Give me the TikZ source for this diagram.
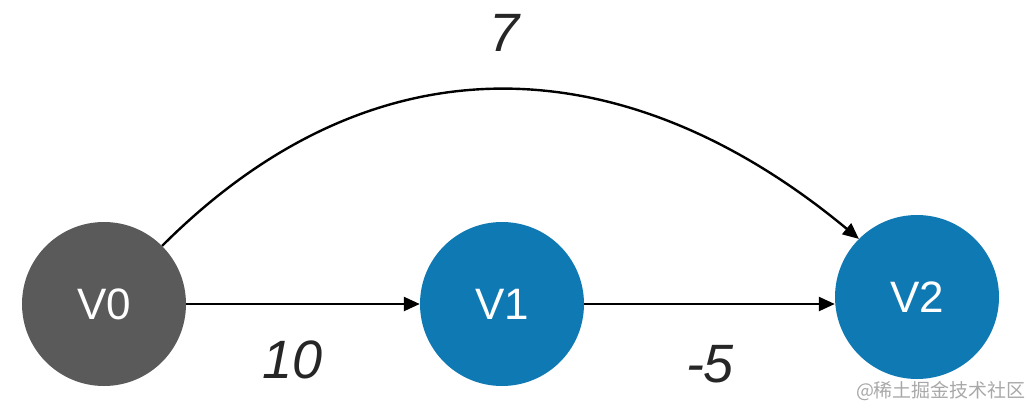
\documentclass[tikz,border=0pt]{standalone}
\usepackage{fontspec}
\setmainfont{Liberation Sans}
\newfontfamily\cjk{Noto Sans CJK SC}
\usetikzlibrary{arrows.meta}
\definecolor{nodegray}{HTML}{5A5A5A}
\definecolor{nodeblue}{HTML}{0F79B4}
\definecolor{wmgray}{HTML}{A8A8A8}
\tikzset{
  vertex/.style={circle, minimum size=164pt, inner sep=0pt, text=white, font=\fontsize{44}{44}\selectfont},
  edge/.style={line width=2.4pt, -{Triangle[length=16pt,width=14pt]}},
  wlabel/.style={font=\fontsize{54}{54}\selectfont\itshape, text=black!85}
}
\begin{document}
\begin{tikzpicture}[x=1pt,y=-1pt]
\useasboundingbox (0,0) rectangle (1028,410);
\node[vertex, fill=nodegray] (V0) at (104,304) {V0};
\node[vertex, fill=nodeblue] (V1) at (502,304) {V1};
\node[vertex, fill=nodeblue] (V2) at (917,297) {V2};
\draw[edge] (V0) -- (V1);
\draw[edge] (V1.east) -- (V1.east -| V2.west);
\draw[edge] (V0.45) .. controls (383,25) and (635,53) .. (V2.135);
\node[wlabel] (l7) at (505,33) {7};
\node[wlabel] (l10) at (293,360) {10};
\node[wlabel] (l5) at (710,364) {-5};
\node[font=\cjk\fontsize{19}{19}\selectfont, text=wmgray, inner sep=0pt] (wm) at (941,391) {@稀土掘金技术社区};
\end{tikzpicture}
\end{document}
